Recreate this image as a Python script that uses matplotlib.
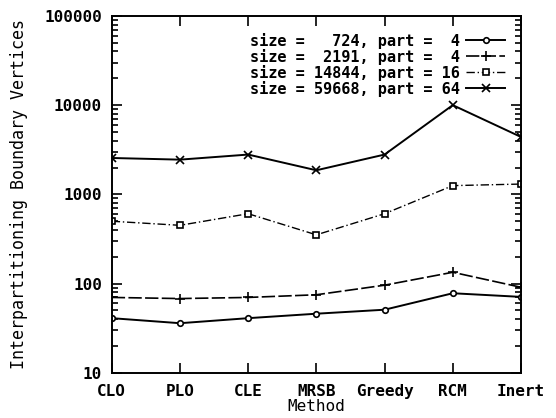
import numpy as np
import matplotlib
matplotlib.use("Agg")
import matplotlib.pyplot as plt
from matplotlib.ticker import LogLocator, NullFormatter, FixedLocator

methods = ["CLO", "PLO", "CLE", "MRSB", "Greedy", "RCM", "Inert"]
labels = [
    "size =   724, part =  4",
    "size =  2191, part =  4",
    "size = 14844, part = 16",
    "size = 59668, part = 64",
]
s724 = [41, 36, 41, 46, 51, 78, 71]
s2191 = [70, 68, 70, 75, 96, 134, 91]
s14844 = [500, 450, 607, 352, 607, 1253, 1305]
s59668 = [2557, 2450, 2793, 1862, 2793, 10000, 4400]

plt.rcParams["font.family"] = ["DejaVu Sans Mono"]
plt.rcParams["font.weight"] = "bold"

fig = plt.figure(figsize=(5.56, 4.18), dpi=100)
ax = fig.add_axes([0.201, 0.108, 0.736, 0.854])
x = np.arange(len(methods))

ax.plot(x, s724, color="black", lw=1.4, marker="o", ms=4, mfc="white", mew=1.2, label=labels[0])
ax.plot(x, s2191, color="black", lw=1.2, ls=(0, (8, 2)), marker="+", ms=7, mew=1.2, label=labels[1])
ax.plot(x, s14844, color="black", lw=1.0, ls=(0, (6, 2, 1, 2)), marker="s", ms=5, mfc="white", mew=1.2, label=labels[2])
ax.plot(x, s59668, color="black", lw=1.4, marker="x", ms=6, mew=1.2, label=labels[3])

ax.set_yscale("log")
ax.set_ylim(10, 100000)
ax.set_xlim(0, len(methods) - 1)
ax.set_xticks(x)
ax.set_xticklabels(methods)
ax.yaxis.set_major_locator(FixedLocator([10, 100, 1000, 10000, 100000]))
ax.set_yticklabels(["10", "100", "1000", "10000", "100000"])
ax.yaxis.set_minor_locator(LogLocator(base=10, subs=np.arange(2, 10)))
ax.yaxis.set_minor_formatter(NullFormatter())
ax.tick_params(which="both", direction="in", top=True, right=True, labelsize=11.5, width=1.2)
ax.tick_params(which="major", length=7)
ax.tick_params(axis="x", which="major", pad=8)
ax.tick_params(axis="y", which="major", pad=7)
ax.tick_params(which="minor", length=4)
for sp in ax.spines.values():
    sp.set_linewidth(1.4)

ax.set_xlabel("Method", fontsize=11.5, labelpad=0)
ax.set_ylabel("Interpartitioning Boundary Vertices", fontsize=12, labelpad=12)

ax.legend(loc="upper right", bbox_to_anchor=(0.975, 0.97), frameon=False, markerfirst=False,
          fontsize=11, labelspacing=0.0, handlelength=2.5, handletextpad=0.4, borderaxespad=0)

fig.savefig("out.png", dpi=100)
